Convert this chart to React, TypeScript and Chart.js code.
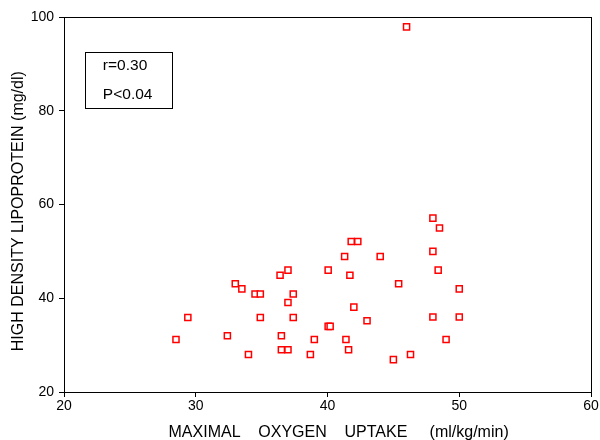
import React, { useEffect, useRef } from "react";
import { Chart, registerables } from "chart.js";

Chart.register(...registerables);

const oxygenUptake = [28.5, 29.4, 32.4, 33.0, 33.5, 34.0, 34.5, 34.9, 34.9, 36.4, 36.5, 36.5, 37.0, 37.0, 37.0, 37.4, 37.4, 38.7, 39.0, 40.05, 40.05, 40.2, 41.3, 41.4, 41.6, 41.7, 41.8, 42.3, 42.0, 43.0, 44.0, 45.0, 45.4, 46.0, 46.3, 48.0, 48.0, 48.0, 48.5, 48.4, 49.0, 50.0, 50.0];
const hdlValues = [31.2, 35.9, 32.0, 43.1, 42.0, 28.0, 40.9, 40.9, 35.9, 44.9, 32.0, 29.0, 46.0, 39.1, 29.0, 40.9, 35.9, 28.0, 31.2, 46.0, 34.0, 34.0, 48.9, 31.2, 29.0, 44.9, 52.1, 52.1, 38.1, 35.2, 48.9, 26.9, 43.1, 97.9, 28.0, 57.1, 50.0, 36.0, 55.0, 46.0, 31.2, 42.0, 36.0];
const xTicks = [20, 30, 40, 50, 60];
const yTicks = [20, 40, 60, 80, 100];
const statLines = ["r=0.30", "P<0.04"];

const FONT = "'Liberation Sans', Arial, Helvetica, sans-serif";

const framePlugin = {
  id: "frameAndStats",
  afterDraw(chart: any) {
    const { ctx, chartArea, scales } = chart;
    const xs = scales.x;
    const ys = scales.y;
    ctx.save();
    ctx.strokeStyle = "#000";
    ctx.lineWidth = 1;
    ctx.strokeRect(
      Math.round(chartArea.left) + 0.5,
      Math.round(chartArea.top) + 0.5,
      Math.round(chartArea.right - chartArea.left),
      Math.round(chartArea.bottom - chartArea.top)
    );
    // stats box
    const bx1 = xs.getPixelForValue(21.56);
    const bx2 = xs.getPixelForValue(28.2);
    const by1 = ys.getPixelForValue(92.5);
    const by2 = ys.getPixelForValue(80.6);
    ctx.strokeRect(Math.round(bx1) + 0.5, Math.round(by1) + 0.5, Math.round(bx2 - bx1), Math.round(by2 - by1));
    ctx.fillStyle = "#000";
    ctx.font = `15.5px ${FONT}`;
    ctx.textAlign = "left";
    ctx.textBaseline = "middle";
    ctx.fillText(statLines[0], xs.getPixelForValue(22.95), ys.getPixelForValue(89.6));
    ctx.fillText(statLines[1], xs.getPixelForValue(22.95), ys.getPixelForValue(83.5));
    ctx.restore();
  },
};

export default function App() {
  const ref = useRef<HTMLCanvasElement | null>(null);
  useEffect(() => {
    document.body.style.margin = "0";
    const canvas = ref.current;
    if (!canvas) return;
    const chart = new Chart(canvas, {
      type: "scatter",
      data: {
        datasets: [
          {
            data: oxygenUptake.map((x, i) => ({ x, y: hdlValues[i] })),
            pointStyle: "rect",
            pointRadius: 4.3,
            pointBorderColor: "#ff0000",
            pointBackgroundColor: "#ffffff",
            pointBorderWidth: 1.5,
            showLine: false,
          },
        ],
      },
      options: {
        responsive: false,
        animation: false,
        devicePixelRatio: 1,
        layout: { padding: { top: 17, right: 9, left: 0, bottom: 0 } },
        plugins: { legend: { display: false }, tooltip: { enabled: false } },
        scales: {
          x: {
            type: "linear",
            min: 20,
            max: 60,
            afterBuildTicks: (s: any) => {
              s.ticks = xTicks.map((v) => ({ value: v }));
            },
            afterFit: (s: any) => {
              s.height = 48;
            },
            grid: { drawOnChartArea: false, drawTicks: true, tickLength: 5, color: "#000" },
            border: { display: true, color: "#000", width: 1 },
            ticks: { color: "#000", font: { family: FONT, size: 14 }, padding: 1, maxRotation: 0 },
            title: {
              display: true,
              text: "     MAXIMAL    OXYGEN    UPTAKE     (ml/kg/min)",
              color: "#000",
              font: { family: FONT, size: 16 },
              padding: { top: 0, bottom: -2 },
            },
          },
          y: {
            type: "linear",
            min: 20,
            max: 100,
            afterBuildTicks: (s: any) => {
              s.ticks = yTicks.map((v) => ({ value: v }));
            },
            afterFit: (s: any) => {
              s.width = 64;
            },
            grid: { drawOnChartArea: false, drawTicks: true, tickLength: 5, color: "#000" },
            border: { display: true, color: "#000", width: 1 },
            ticks: { color: "#000", font: { family: FONT, size: 14 }, padding: 5 },
            title: {
              display: true,
              text: "HIGH DENSITY LIPOPROTEIN (mg/dl)   ",
              color: "#000",
              font: { family: FONT, size: 16 },
              padding: { top: 9, bottom: 0 },
            },
          },
        },
      },
      plugins: [framePlugin],
    });
    return () => chart.destroy();
  }, []);
  return (
    <div style={{ position: "fixed", left: 0, top: 0, width: 600, height: 440, background: "#fff" }}>
      <canvas ref={ref} width={600} height={440} style={{ width: 600, height: 440 }} />
    </div>
  );
}
